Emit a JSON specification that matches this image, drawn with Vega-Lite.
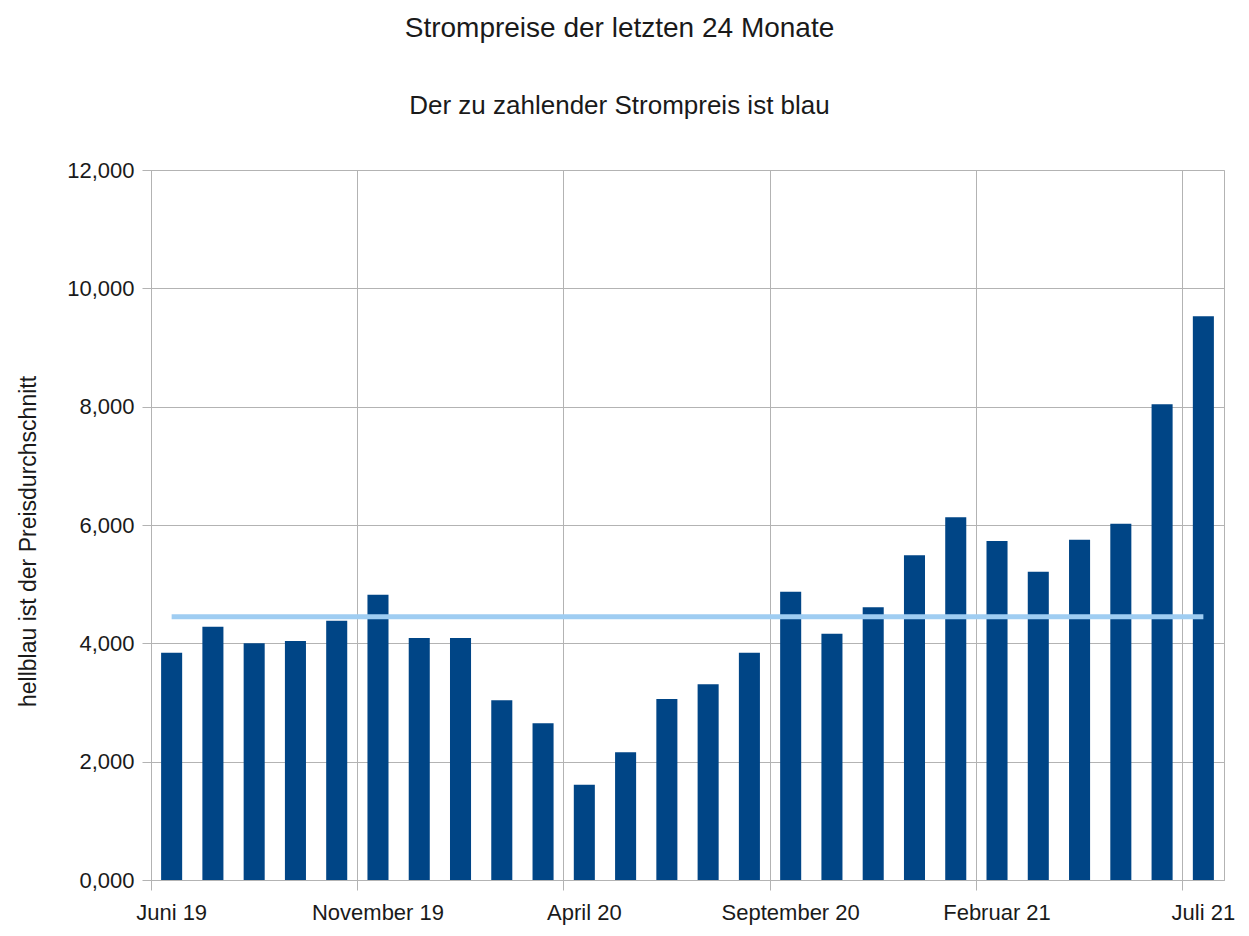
{
  "$schema": "https://vega.github.io/schema/vega-lite/v6.json",
  "width": 1073,
  "height": 710,
  "autosize": {"type": "none"},
  "padding": {"left": 151, "top": 170, "right": 25, "bottom": 56},
  "background": "white",
  "config": {
    "locale": {"number": {"decimal": ",", "thousands": ".", "grouping": [3], "currency": ["", " €"]}},
    "view": {"stroke": "#b3b3b3", "strokeWidth": 1},
    "font": "Liberation Sans"
  },
  "title": {
    "text": "Strompreise der letzten 24 Monate",
    "subtitle": "Der zu zahlender Strompreis ist blau",
    "anchor": "middle",
    "dx": -68,
    "font": "Liberation Sans",
    "fontSize": 28,
    "fontWeight": "normal",
    "color": "#1a1a1a",
    "subtitleFont": "Liberation Sans",
    "subtitleFontSize": 26,
    "subtitleColor": "#1a1a1a",
    "subtitlePadding": 50,
    "offset": 40
  },
  "data": {
    "values": [
      {"monat": "Juni 19", "preis": 3.84, "schnitt": 4.45},
      {"monat": "Juli 19", "preis": 4.28, "schnitt": 4.45},
      {"monat": "August 19", "preis": 4.0, "schnitt": 4.45},
      {"monat": "September 19", "preis": 4.04, "schnitt": 4.45},
      {"monat": "Oktober 19", "preis": 4.38, "schnitt": 4.45},
      {"monat": "November 19", "preis": 4.82, "schnitt": 4.45},
      {"monat": "Dezember 19", "preis": 4.09, "schnitt": 4.45},
      {"monat": "Januar 20", "preis": 4.09, "schnitt": 4.45},
      {"monat": "Februar 20", "preis": 3.04, "schnitt": 4.45},
      {"monat": "März 20", "preis": 2.65, "schnitt": 4.45},
      {"monat": "April 20", "preis": 1.61, "schnitt": 4.45},
      {"monat": "Mai 20", "preis": 2.16, "schnitt": 4.45},
      {"monat": "Juni 20", "preis": 3.06, "schnitt": 4.45},
      {"monat": "Juli 20", "preis": 3.31, "schnitt": 4.45},
      {"monat": "August 20", "preis": 3.84, "schnitt": 4.45},
      {"monat": "September 20", "preis": 4.87, "schnitt": 4.45},
      {"monat": "Oktober 20", "preis": 4.16, "schnitt": 4.45},
      {"monat": "November 20", "preis": 4.61, "schnitt": 4.45},
      {"monat": "Dezember 20", "preis": 5.49, "schnitt": 4.45},
      {"monat": "Januar 21", "preis": 6.13, "schnitt": 4.45},
      {"monat": "Februar 21", "preis": 5.73, "schnitt": 4.45},
      {"monat": "März 21", "preis": 5.21, "schnitt": 4.45},
      {"monat": "April 21", "preis": 5.75, "schnitt": 4.45},
      {"monat": "Mai 21", "preis": 6.02, "schnitt": 4.45},
      {"monat": "Juni 21", "preis": 8.04, "schnitt": 4.45},
      {"monat": "Juli 21", "preis": 9.53, "schnitt": 4.45}
    ]
  },
  "encoding": {
    "x": {
      "field": "monat",
      "type": "nominal",
      "sort": null,
      "scale": {"paddingInner": 0, "paddingOuter": 0},
      "axis": {
        "title": null,
        "values": ["Juni 19", "November 19", "April 20", "September 20", "Februar 21", "Juli 21"],
        "labelAngle": 0,
        "labelFont": "Liberation Sans",
        "labelFontSize": 22,
        "labelColor": "#1a1a1a",
        "labelPadding": 12,
        "labelOverlap": false,
        "labelBaseline": "top",
        "bandPosition": 0,
        "grid": true,
        "gridColor": "#b3b3b3",
        "gridWidth": 1,
        "ticks": true,
        "tickSize": 10,
        "tickColor": "#b3b3b3",
        "domainColor": "#b3b3b3"
      }
    }
  },
  "layer": [
    {
      "mark": {"type": "bar", "color": "#004586", "width": {"band": 0.51}},
      "encoding": {
        "y": {
          "field": "preis",
          "type": "quantitative",
          "scale": {"domain": [0, 12], "nice": false},
          "axis": {
            "title": "hellblau ist der Preisdurchschnitt",
            "titleFont": "Liberation Sans",
            "titleFontSize": 23,
            "titleFontWeight": "normal",
            "titleColor": "#1a1a1a",
            "titleX": -123,
            "titleY": 371,
            "titleAlign": "center",
            "titleBaseline": "middle",
            "titleAngle": -90,
            "values": [0, 2, 4, 6, 8, 10, 12],
            "format": ".3f",
            "labelFont": "Liberation Sans",
            "labelFontSize": 22,
            "labelColor": "#1a1a1a",
            "labelPadding": 8,
            "grid": true,
            "gridColor": "#b3b3b3",
            "gridWidth": 1,
            "tickSize": 9,
            "tickColor": "#b3b3b3",
            "domainColor": "#b3b3b3"
          }
        }
      }
    },
    {
      "mark": {"type": "line", "color": "#9fcdf2", "strokeWidth": 5},
      "encoding": {
        "y": {"field": "schnitt", "type": "quantitative"}
      }
    }
  ]
}
